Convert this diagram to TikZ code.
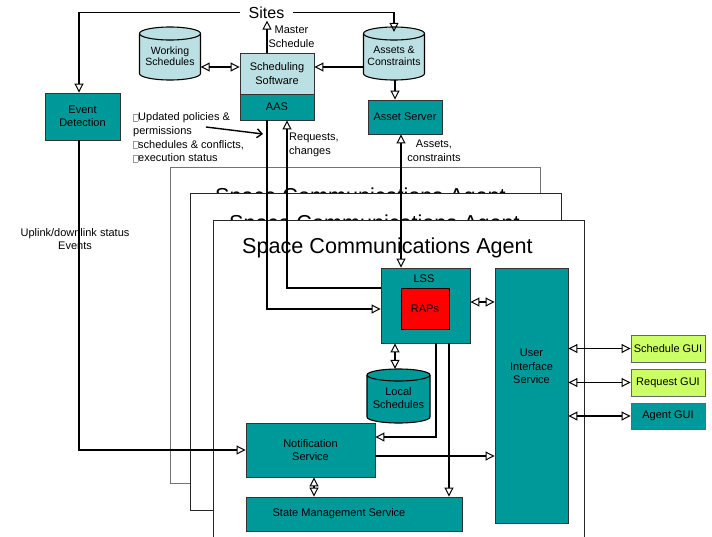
\documentclass[tikz,border=0pt]{standalone}
\usepackage{fontspec}
\setmainfont{Liberation Sans}
\usetikzlibrary{arrows.meta}
\definecolor{tealbox}{HTML}{009999}
\definecolor{paleblue}{HTML}{BBE0E3}
\definecolor{limebox}{HTML}{CCFF66}
\definecolor{rapred}{HTML}{FF0000}
% placeholder glyph printed before list items
\newcommand\tofu{\textcolor{black!40}{\setlength{\fboxsep}{0pt}\setlength{\fboxrule}{0.5pt}\fbox{\rule{0pt}{6.5pt}\hspace{4pt}}}}
% database drum: #1 fill, #2 centre x, #3 half width, #4 top rim y, #5 bottom rim y, #6 rim half height
\newcommand\drum[6]{%
  \filldraw[fill=#1, draw=black, line width=1.1pt]
    ({#2-#3},#4) -- ({#2-#3},#5)
    .. controls ({#2-#3},{#5+0.552*#6}) and ({#2-0.552*#3},{#5+#6}) .. (#2,{#5+#6})
    .. controls ({#2+0.552*#3},{#5+#6}) and ({#2+#3},{#5+0.552*#6}) .. ({#2+#3},#5)
    -- ({#2+#3},#4)
    .. controls ({#2+#3},{#4-0.552*#6}) and ({#2+0.552*#3},{#4-#6}) .. (#2,{#4-#6})
    .. controls ({#2-0.552*#3},{#4-#6}) and ({#2-#3},{#4-0.552*#6}) .. ({#2-#3},#4) -- cycle;
  \draw[line width=1.1pt] ({#2-#3},#4)
    .. controls ({#2-#3},{#4+0.552*#6}) and ({#2-0.552*#3},{#4+#6}) .. (#2,{#4+#6})
    .. controls ({#2+0.552*#3},{#4+#6}) and ({#2+#3},{#4+0.552*#6}) .. ({#2+#3},#4);}

\begin{document}
\begin{tikzpicture}[x=1pt,y=-1pt,
  >={Triangle[open,length=9pt,width=9pt,line width=1pt]},
  every node/.style={font=\fontsize{11}{13.5}\selectfont},
  box/.style={draw=black!80, line width=0.9pt, fill=tealbox, align=center, inner sep=0pt},
  conn/.style={line width=1.4pt},
  frame/.style={draw=black!85, line width=0.9pt, fill=white},
  title/.style={font=\fontsize{21.6}{24}\selectfont, anchor=base west, inner sep=0pt},
  txt/.style={align=center, inner sep=0pt},
  drumtxt/.style={inner sep=0pt, align=center, font=\fontsize{10.5}{11.5}\selectfont}]
\useasboundingbox (0,0) rectangle (712,536);

% stacked agent frames
\path[frame, draw=black!55] (170,167) rectangle (540,483);
\node[title] (t1) at (215,203.5) {Space Communications Agent};
\path[frame] (190,193) rectangle (561,510);
\node[title] (t2) at (229,230.5) {Space Communications Agent};
\path[frame] (213,220) rectangle (584,545);
\node[title] (t3) at (242,253) {Space Communications Agent};

% helper rows and columns
\coordinate (row1) at (0,67);
\coordinate (edx) at (79,0);
\coordinate (msx) at (267,0);
\coordinate (c287) at (287,0);
\coordinate (c395) at (395,0);
\coordinate (c401) at (401,0);
\coordinate (c436) at (436,0);
\coordinate (c449) at (449,0);
\coordinate (c314) at (314,0);
\coordinate (r288) at (0,288);
\coordinate (r302) at (0,302);
\coordinate (r309) at (0,309);
\coordinate (r437) at (0,437);
\coordinate (r456) at (0,456);
\coordinate (nb1) at (206,127);
\coordinate (nb2) at (263,134);

% top section
\node[font=\fontsize{16}{18}\selectfont, fill=white, inner xsep=8.7pt, inner ysep=2pt] (sites) at (266.5,12.5) {Sites};
\drum{paleblue}{170}{30.5}{33.5}{73.5}{6.5}
\node[drumtxt, minimum width=61pt, minimum height=48pt] (ws) at (170,56) {Working\\Schedules};
\drum{paleblue}{394}{30.5}{33.5}{73.5}{6.5}
\node[drumtxt, minimum width=61pt, minimum height=48pt] (ac) at (394,56) {Assets \&\\Constraints};
\node[box, fill=paleblue, minimum width=74pt, minimum height=41pt] (ss) at (277,73.5) {Scheduling\\Software};
\node[box, minimum width=74pt, minimum height=26pt] (aas) at (277,107) {AAS};
\node[box, minimum width=74pt, minimum height=34pt] (as) at (405,117) {Asset Server};
\node[box, minimum width=75pt, minimum height=47pt] (ed) at (82.5,116.5) {Event\\Detection};

% agent internals
\node[box, minimum width=89pt, minimum height=75pt] (lss) at (425.5,305.5) {};
\node[txt] (lsslbl) at (424,279) {LSS};
\node[box, fill=rapred, draw=black, minimum width=48pt, minimum height=41pt] (raps) at (425,308.5) {RAPs};
\node[box, minimum width=73pt, minimum height=255pt] (uis) at (531.5,395.5) {};
\node[txt] (uistxt) at (531.5,366.5) {User\\Interface\\Service};
\drum{tealbox}{398.5}{31.5}{375}{417}{6}
\node[drumtxt, font=\fontsize{11}{13.5}\selectfont, minimum width=63pt, minimum height=58pt] (ls) at (398.5,398) {Local\\Schedules};
\node[box, minimum width=129pt, minimum height=54pt] (ns) at (310.5,450) {Notification\\Service};
\node[box, minimum width=216pt, minimum height=34pt] (sms) at (354,514) {};
\node[txt] (smstxt) at (339,514) {State Management Service};

% user interfaces
\node[box, fill=limebox, draw=black!60, minimum width=74pt, minimum height=27pt] (sg) at (668,348.5) {Schedule GUI};
\node[box, fill=limebox, draw=black!60, minimum width=74pt, minimum height=27pt] (rg) at (668,382.5) {Request GUI};
\node[box, draw=black!60, minimum width=74pt, minimum height=26pt] (ag) at (668,416) {Agent GUI};

% labels
\node[txt] (mslbl) at (291.5,37) {Master\\Schedule};
\node[anchor=north west, align=left, inner sep=0pt, font=\fontsize{11}{13.7}\selectfont] (notes) at (133,112.5)
  {\tofu Updated policies \&\\permissions\\\tofu schedules \& conflicts,\\\tofu execution status};
\node[txt, anchor=west, align=left] (reqlbl) at (289,145) {Requests,\\changes};
\node[txt] (aclbl) at (434,151) {Assets,\\constraints};
\node[txt] (uplbl) at (75,239) {Uplink/downlink status\\Events};

% connectors
\draw[conn,->] (sites.west) -| (edx |- ed.north);
\draw[conn,->] (sites.east) -| (ac.north);
\draw[conn,->] (msx |- ss.north) -- (msx |- sites.south);
\draw[conn,<->] (ws.east |- row1) -- (ss.west |- row1);
\draw[conn,->] (ac.west |- row1) -- (ss.east |- row1);
\draw[conn,->] (c395 |- ac.south) -- (c395 |- as.north);
\draw[conn,-{Straight Barb[length=5pt,width=9pt]}] (nb1) -- (nb2);
\draw[conn,->] (msx |- aas.south) |- (lss.west |- r309);
\draw[conn,->] (lss.west |- r288) -| (c287 |- aas.south);
\draw[conn,<->] (c401 |- as.south) -- (c401 |- lss.north);
\draw[conn,->] (edx |- ed.south) |- (ns.west);
\draw[conn,<->] (lss.east |- r302) -- (uis.west |- r302);
\draw[conn,<->] (c395 |- lss.south) -- (c395 |- ls.north);
\draw[conn,->] (c436 |- lss.south) |- (ns.east |- r437);
\draw[conn,->] (c449 |- lss.south) -- (c449 |- sms.north);
\draw[conn,->] (ns.east |- r456) -- (uis.west |- r456);
\draw[conn,<->] (c314 |- ns.south) -- (c314 |- sms.north);
\draw[conn,<->] (uis.east |- sg) -- (sg.west);
\draw[conn,<->] (uis.east |- rg) -- (rg.west);
\draw[conn,<->] (uis.east |- ag) -- (ag.west);
\end{tikzpicture}
\end{document}
